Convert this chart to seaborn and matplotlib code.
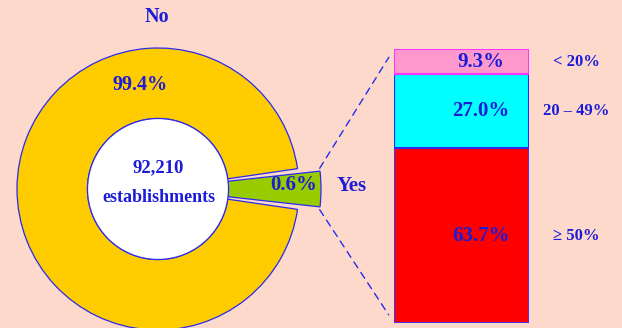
import numpy as np
import pandas as pd
import matplotlib
matplotlib.use("Agg")
import matplotlib.pyplot as plt
from matplotlib.patches import Wedge, Circle, ConnectionPatch
from matplotlib.transforms import blended_transform_factory
import seaborn as sns

# ---------------- data ----------------
donut_labels = ["No", "Yes"]
donut_values = [99.4, 0.6]
total_establishments = "92,210"
center_label = "establishments"

bar_categories = [">= 50%", "20 - 49%", "< 20%"]          # bottom -> top
bar_tick_labels = ["\u2265 50%", "20 \u2013 49%", "< 20%"]
bar_values = [63.7, 27.0, 9.3]

# ---------------- style ----------------
BG = "#fdd9cc"
TXT = "#1c1cd8"
EDGE = "#2a2aee"
YELLOW = "#ffcc00"
GREEN = "#99cc00"
bar_colors = ["#ff0000", "#00ffff", "#ff99cc"]
bar_edges = ["#4433ee", "#2a2aee", "#ff33ff"]
YES_MIN_ANGLE = 12.6   # tiny slice is drawn enlarged (as in the reference)
FONT = ["Liberation Serif", "DejaVu Serif"]

sns.set_theme(style="white")
plt.rcParams["font.family"] = FONT
plt.rcParams["font.weight"] = "bold"

W, H = 622, 328
fig = plt.figure(figsize=(W / 100, H / 100), dpi=100, facecolor=BG)

# ---------------- donut ----------------
scale = 141.0          # px per unit radius
cx, cy = 158.0, 189.0  # centre in px
ax_w = 360
ax1 = fig.add_axes([0, 0, ax_w / W, 1])
ax1.set_xlim((0 - cx) / scale, (ax_w - cx) / scale)
ax1.set_ylim((cy - H) / scale, cy / scale)
ax1.set_facecolor(BG)
ax1.axis("off")

yes_angle = max(donut_values[1] * 3.6, YES_MIN_ANGLE)
half_yes = yes_angle / 2
gap = 2.0
r_out, r_in, r_yes = 1.0, 0.5, 1.156

ax1.add_patch(Wedge((0, 0), r_out, half_yes + gap, 360 - half_yes - gap,
                    width=r_out - r_in, facecolor=YELLOW, edgecolor=EDGE, lw=0.9))
ax1.add_patch(Wedge((0, 0), r_yes, -half_yes, half_yes,
                    width=r_yes - r_in, facecolor=GREEN, edgecolor=EDGE, lw=0.9))
ax1.add_patch(Circle((0, 0), r_in, facecolor="white", edgecolor=EDGE, lw=0.9, zorder=3))

tk = dict(color=TXT, fontweight="bold", ha="center", va="center")
ax1.text(-0.007, 1.22, donut_labels[0], fontsize=14.5, **tk)
ax1.text(-0.128, 0.738, f"{donut_values[0]:.1f}%", fontsize=14.5, **tk)
ax1.text(0, 0.15, total_establishments, fontsize=13.5, zorder=4, **tk)
ax1.text(0.005, -0.06, center_label, fontsize=13, zorder=4, **tk)
ax1.text(0.965, 0.025, f"{donut_values[1]:.1f}%", fontsize=15, **tk)
ax1.text(1.376, 0.02, donut_labels[1], fontsize=15, **tk)

# ---------------- stacked bar ----------------
bx0, bx1, by0, by1 = 394, 529, 49, 323
ax2 = fig.add_axes([bx0 / W, (H - by1) / H, (bx1 - bx0) / W, (by1 - by0) / H])
ax2.set_facecolor(BG)

df = pd.DataFrame({"group": ["Yes"] * len(bar_values),
                   "band": bar_categories, "value": bar_values})
bottoms = np.concatenate([[0], np.cumsum(bar_values)[:-1]])
for i, row in df.iterrows():
    sns.barplot(data=df.iloc[[i]], x="group", y="value", bottom=bottoms[i],
                color=bar_colors[i], saturation=1, edgecolor=bar_edges[i],
                linewidth=1.5, width=0.8, ax=ax2)
ax2.set_xlim(-0.4, 0.4)
ax2.set_ylim(0, sum(bar_values))
ax2.axis("off")

trans = blended_transform_factory(ax2.transAxes, ax2.transData)
for i, (lab, v) in enumerate(zip(bar_tick_labels, bar_values)):
    mid = bottoms[i] + v / 2
    ax2.text(0.644, mid, f"{v:.1f}%", transform=trans, fontsize=15, clip_on=False, **tk)
    ax2.text(1.35, mid, lab, transform=trans, fontsize=12, clip_on=False, **tk)

# ---------------- connector lines ----------------
a = np.deg2rad(half_yes + 1.0)
for sgn, ybar in [(1, sum(bar_values)), (-1, 0)]:
    con = ConnectionPatch(xyA=(r_yes * np.cos(a), sgn * r_yes * np.sin(a)), coordsA=ax1.transData,
                          xyB=(-0.4, ybar), coordsB=ax2.transData,
                          color=EDGE, lw=1.0, linestyle=(0, (5, 4)), shrinkB=7)
    fig.add_artist(con)

fig.savefig("out.png", dpi=100, facecolor=BG)
